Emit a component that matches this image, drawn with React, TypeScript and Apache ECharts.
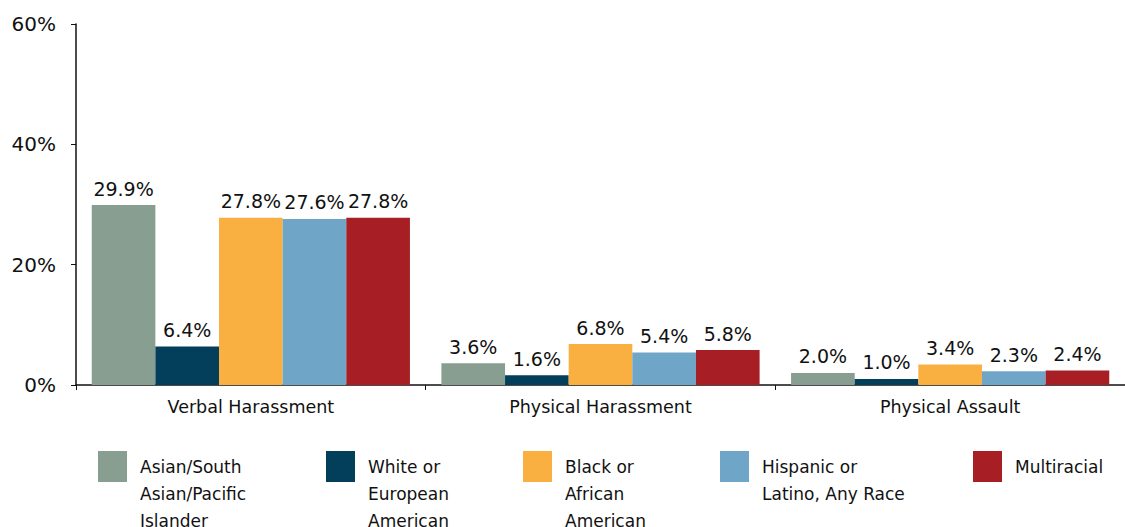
import React, { useEffect, useRef } from "react";
import * as echarts from "echarts";

const categories = ["Verbal Harassment", "Physical Harassment", "Physical Assault"];
const seriesNames = [
  "Asian/South Asian/Pacific Islander",
  "White or European American",
  "Black or African American",
  "Hispanic or Latino, Any Race",
  "Multiracial",
];
const legendLabels = [
  "Asian/South\nAsian/Pacific\nIslander",
  "White or\nEuropean\nAmerican",
  "Black or\nAfrican\nAmerican",
  "Hispanic or\nLatino, Any Race",
  "Multiracial",
];
const asianValues = [29.9, 3.6, 2.0];
const whiteValues = [6.4, 1.6, 1.0];
const blackValues = [27.8, 6.8, 3.4];
const hispanicValues = [27.6, 5.4, 2.3];
const multiValues = [27.8, 5.8, 2.4];
const yTicks = [0, 20, 40, 60];

const colors = ["#889e90", "#033f5a", "#f9b040", "#6fa6c8", "#a71e25"];
const legendLeft = [98, 326, 523, 720, 973];
const FONT = "DejaVu Sans";
const LH = 27;
const ICON_H = 31;

export default function App() {
  const ref = useRef<HTMLDivElement>(null);
  useEffect(() => {
    if (!ref.current) return;
    const chart = echarts.init(ref.current, undefined, { renderer: "svg" });
    const values = [asianValues, whiteValues, blackValues, hispanicValues, multiValues];
    const series = values.map((v, i) => ({
      name: seriesNames[i],
      type: "bar",
      data: v,
      barGap: "0%",
      barCategoryGap: "9%",
      itemStyle: { color: colors[i] },
      label: {
        show: true,
        position: "top",
        distance: 7,
        formatter: (p: any) => p.value.toFixed(1) + "%",
        fontFamily: FONT,
        fontSize: 19,
        color: "#111",
      },
    }));
    const legends = seriesNames.map((n, i) => {
      const realLines = legendLabels[i].split("\n");
      const lines = realLines.length;
      const allLines = Array(lines - 1).fill(" ").concat(realLines);
      const total = 2 * lines - 1;
      const offset = Math.max(0, (total * LH) / 2 - ICON_H / 2);
      return {
        data: [n],
        left: legendLeft[i],
        top: 451 - offset,
        itemWidth: 29,
        itemHeight: ICON_H,
        itemGap: 0,
        selectedMode: false,
        icon: "rect",
        padding: 0,
        formatter: () => allLines.map((l: string) => "{t|" + l + "}").join("\n"),
        textStyle: {
          fontFamily: FONT,
          fontSize: 17,
          color: "#111",
          lineHeight: LH,
          rich: {
            t: {
              fontFamily: FONT,
              fontSize: 17,
              color: "#111",
              lineHeight: LH,
              padding: [0, 0, 0, 8],
            },
          },
        },
      };
    });
    chart.setOption({
      animation: false,
      textStyle: { fontFamily: FONT },
      grid: { left: 76, right: -7, top: 24, bottom: 142, containLabel: false },
      legend: legends,
      xAxis: {
        type: "category",
        data: categories,
        axisLine: { lineStyle: { color: "#111", width: 1.5 } },
        axisTick: { show: true, length: 5, lineStyle: { color: "#111" } },
        axisLabel: { fontFamily: FONT, fontSize: 17.5, color: "#111", margin: 13 },
      },
      yAxis: {
        type: "value",
        min: yTicks[0],
        max: yTicks[yTicks.length - 1],
        interval: 20,
        splitLine: { show: false },
        axisLine: { show: true, lineStyle: { color: "#111", width: 1.5 } },
        axisTick: { show: true, length: 5, lineStyle: { color: "#111" } },
        axisLabel: {
          fontFamily: FONT,
          fontSize: 20,
          color: "#111",
          margin: 20,
          formatter: "{value}%",
        },
      },
      series,
    });
    return () => chart.dispose();
  }, []);
  return (
    <div
      ref={ref}
      style={{ position: "absolute", left: 0, top: 0, width: 1125, height: 527 }}
    />
  );
}
